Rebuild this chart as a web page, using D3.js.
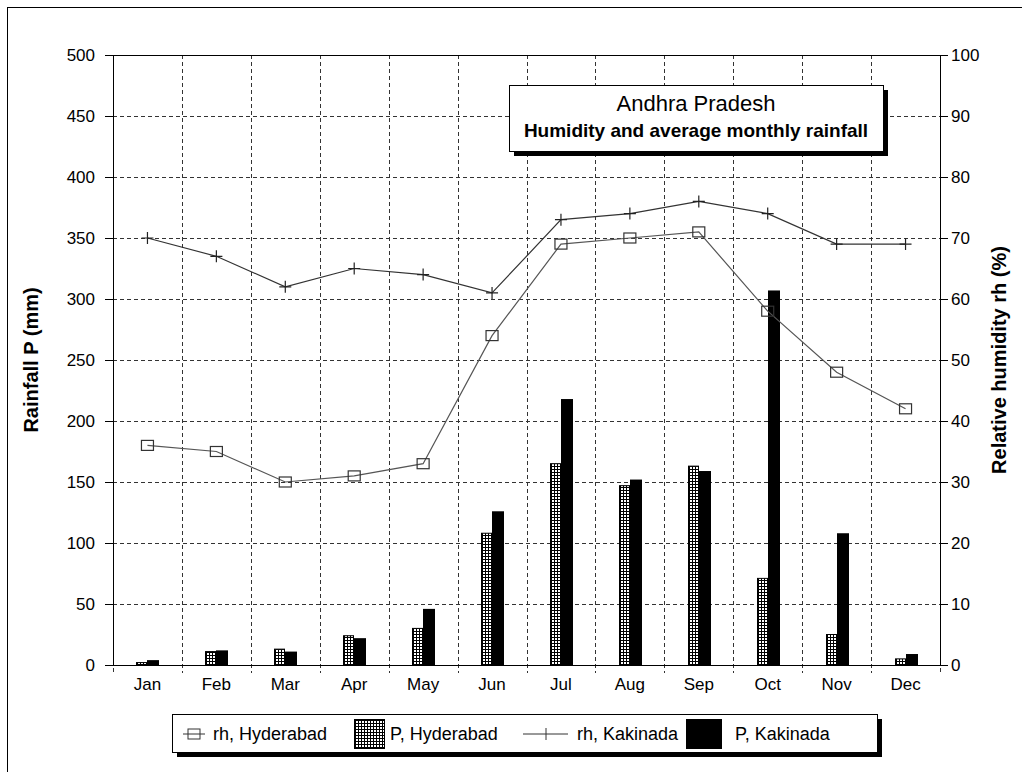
<!DOCTYPE html>
<meta charset="utf-8">
<style>
body{ margin:0; background:#fff; }
svg{ font-family: "Liberation Sans", Arial, sans-serif; }
.tick text{ font-size:17px; fill:#000; }
.grid line{ stroke:#333; stroke-dasharray:4,3; shape-rendering:crispEdges; }
.axis path, .axis line{ stroke:#000; shape-rendering:crispEdges; }
</style>
<svg class="chart" width="1022" height="772"></svg>
<script src="https://cdnjs.cloudflare.com/ajax/libs/d3/7.8.5/d3.min.js" charset="utf-8"></script>
<script>
var months = ["Jan","Feb","Mar","Apr","May","Jun","Jul","Aug","Sep","Oct","Nov","Dec"];
var pHyderabad = [2,11,13,24,30,108,165,147,163,71,25,5];
var pKakinada = [4,12,11,22,46,126,218,152,159,307,108,9];
var rhHyderabad = [36,35,30,31,33,54,69,70,71,58,48,42];
var rhKakinada = [70,67,62,65,64,61,73,74,76,74,69,69];
var rainTicks = [0,50,100,150,200,250,300,350,400,450,500];
var rhTicks = [0,10,20,30,40,50,60,70,80,90,100];

var margin = {top:55, right:82, bottom:107, left:113};
var width = 1022 - margin.left - margin.right,
	height = 772 - margin.top - margin.bottom;

var svg = d3.select(".chart");

// outer frame
svg.append("rect")
	.attr("x",7.5).attr("y",7.5)
	.attr("width",1030).attr("height",780)
	.attr("fill","none").attr("stroke","#000");

var defs = svg.append("defs");
var pat = defs.append("pattern")
	.attr("id","hatch")
	.attr("patternUnits","userSpaceOnUse")
	.attr("width",3).attr("height",3);
pat.append("rect").attr("width",3).attr("height",3).attr("fill","#fff");
pat.append("path").attr("d","M0,0.5H3M0.5,0V3").attr("stroke","#000").attr("stroke-width",1);

var chart = svg.append("g")
	.attr("transform","translate("+margin.left+","+margin.top+")");

var x = d3.scaleBand().domain(months).range([0,width]).padding(0);
var y = d3.scaleLinear().domain([0,500]).range([height,0]);
var y2 = d3.scaleLinear().domain([0,100]).range([height,0]);

// grid
chart.append("g").attr("class","grid")
	.selectAll("line").data(rainTicks.slice(1,-1))
	.enter().append("line")
	.attr("x1",0).attr("x2",width)
	.attr("y1",function(d){ return Math.round(y(d))+0.5; })
	.attr("y2",function(d){ return Math.round(y(d))+0.5; });

chart.append("g").attr("class","grid")
	.selectAll("line").data(months.slice(1))
	.enter().append("line")
	.attr("y1",0).attr("y2",height+8)
	.attr("x1",function(d){ return Math.round(x(d))+0.5; })
	.attr("x2",function(d){ return Math.round(x(d))+0.5; });

// x tick marks at plot edges
chart.append("g").attr("class","grid")
	.selectAll("line").data([0,width])
	.enter().append("line")
	.attr("y1",height+3).attr("y2",height+8)
	.attr("x1",function(d){ return Math.round(d)+0.5; })
	.attr("x2",function(d){ return Math.round(d)+0.5; });

// bars
var bw = 11;
chart.selectAll(".barH").data(pHyderabad)
	.enter().append("rect")
	.attr("class","barH")
	.attr("x",function(d,i){ return Math.round(x(months[i]) + x.bandwidth()/2) - bw + 0.5; })
	.attr("y",function(d){ return y(d); })
	.attr("width",bw-1)
	.attr("height",function(d){ return height - y(d); })
	.attr("fill","url(#hatch)").attr("stroke","#000").attr("stroke-width",1);

chart.selectAll(".barK").data(pKakinada)
	.enter().append("rect")
	.attr("class","barK")
	.attr("x",function(d,i){ return Math.round(x(months[i]) + x.bandwidth()/2); })
	.attr("y",function(d){ return y(d); })
	.attr("width",bw+1)
	.attr("height",function(d){ return height - y(d); })
	.attr("fill","#000");

// axes
var xAxis = chart.append("g").attr("class","axis")
	.attr("transform","translate(0,"+height+")")
	.call(d3.axisBottom(x).tickSize(0).tickPadding(13));
xAxis.select(".domain").attr("d","M0,0.5H"+width);

var yAxis = chart.append("g").attr("class","axis")
	.call(d3.axisLeft(y).tickValues(rainTicks).tickSize(8).tickSizeOuter(0).tickPadding(10));
var y2Axis = chart.append("g").attr("class","axis")
	.attr("transform","translate("+width+",0)")
	.call(d3.axisRight(y2).tickValues(rhTicks).tickSize(8).tickSizeOuter(0).tickPadding(3));

// top border
chart.append("line")
	.attr("x1",-8).attr("x2",width+8)
	.attr("y1",0.5).attr("y2",0.5)
	.attr("stroke","#000");

// lines
var lineH = d3.line()
	.x(function(d,i){ return x(months[i]) + x.bandwidth()/2; })
	.y(function(d){ return y2(d); });

chart.append("path").datum(rhHyderabad)
	.attr("d",lineH).attr("fill","none")
	.attr("stroke","#555").attr("stroke-width",1.2);
chart.append("path").datum(rhKakinada)
	.attr("d",lineH).attr("fill","none")
	.attr("stroke","#333").attr("stroke-width",1.2);

chart.selectAll(".mH").data(rhHyderabad)
	.enter().append("rect")
	.attr("class","mH")
	.attr("x",function(d,i){ return x(months[i]) + x.bandwidth()/2 - 6; })
	.attr("y",function(d){ return y2(d) - 5; })
	.attr("width",12).attr("height",10)
	.attr("fill","none").attr("stroke","#333").attr("stroke-width",1.2);

chart.selectAll(".mK").data(rhKakinada)
	.enter().append("path")
	.attr("class","mK")
	.attr("d",function(d,i){
		var cx = x(months[i]) + x.bandwidth()/2, cy = y2(d);
		return "M"+(cx-6)+","+cy+"H"+(cx+6)+"M"+cx+","+(cy-6)+"V"+(cy+6);
	})
	.attr("stroke","#222").attr("stroke-width",1.2);

// axis titles
svg.append("text")
	.attr("transform","translate(38,"+(margin.top+height/2)+") rotate(-90)")
	.attr("text-anchor","middle")
	.style("font-size","20px").style("font-weight","bold")
	.text("Rainfall P (mm)");
svg.append("text")
	.attr("transform","translate(1006,"+(margin.top+height/2)+") rotate(-90)")
	.attr("text-anchor","middle")
	.style("font-size","20px").style("font-weight","bold")
	.text("Relative humidity rh (%)");

// title box
var tb = svg.append("g").attr("transform","translate(509,85)");
tb.append("rect").attr("x",5).attr("y",5).attr("width",374).attr("height",66).attr("fill","#000");
tb.append("rect").attr("x",0.5).attr("y",0.5).attr("width",374).attr("height",66)
	.attr("fill","#fff").attr("stroke","#000");
tb.append("text").attr("x",187).attr("y",26).attr("text-anchor","middle")
	.style("font-size","22px").text("Andhra Pradesh");
tb.append("text").attr("x",187).attr("y",52).attr("text-anchor","middle")
	.style("font-size","19px").style("font-weight","bold")
	.text("Humidity and average monthly rainfall");

// legend
var lg = svg.append("g").attr("transform","translate(172,714)");
lg.append("rect").attr("x",5).attr("y",5).attr("width",705).attr("height",38).attr("fill","#000");
lg.append("rect").attr("x",0.5).attr("y",0.5).attr("width",705).attr("height",38)
	.attr("fill","#fff").attr("stroke","#000");
var ly = 20;
lg.append("path").attr("d","M11,"+ly+"H33").attr("stroke","#333");
lg.append("rect").attr("x",16).attr("y",ly-5).attr("width",12).attr("height",10)
	.attr("fill","none").attr("stroke","#333");
lg.append("text").attr("x",41).attr("y",ly+6).style("font-size","18px").text("rh, Hyderabad");
lg.append("rect").attr("x",182.5).attr("y",5.5).attr("width",30).attr("height",29)
	.attr("fill","url(#hatch)").attr("stroke","#000");
lg.append("text").attr("x",218).attr("y",ly+6).style("font-size","18px").text("P, Hyderabad");
lg.append("path").attr("d","M351,"+ly+"H396").attr("stroke","#333");
lg.append("path").attr("d","M374,"+(ly-6)+"V"+(ly+6)).attr("stroke","#333");
lg.append("text").attr("x",405).attr("y",ly+6).style("font-size","18px").text("rh, Kakinada");
lg.append("rect").attr("x",514).attr("y",5).attr("width",36).attr("height",30).attr("fill","#000");
lg.append("text").attr("x",563).attr("y",ly+6).style("font-size","18px").text("P, Kakinada");
</script>
